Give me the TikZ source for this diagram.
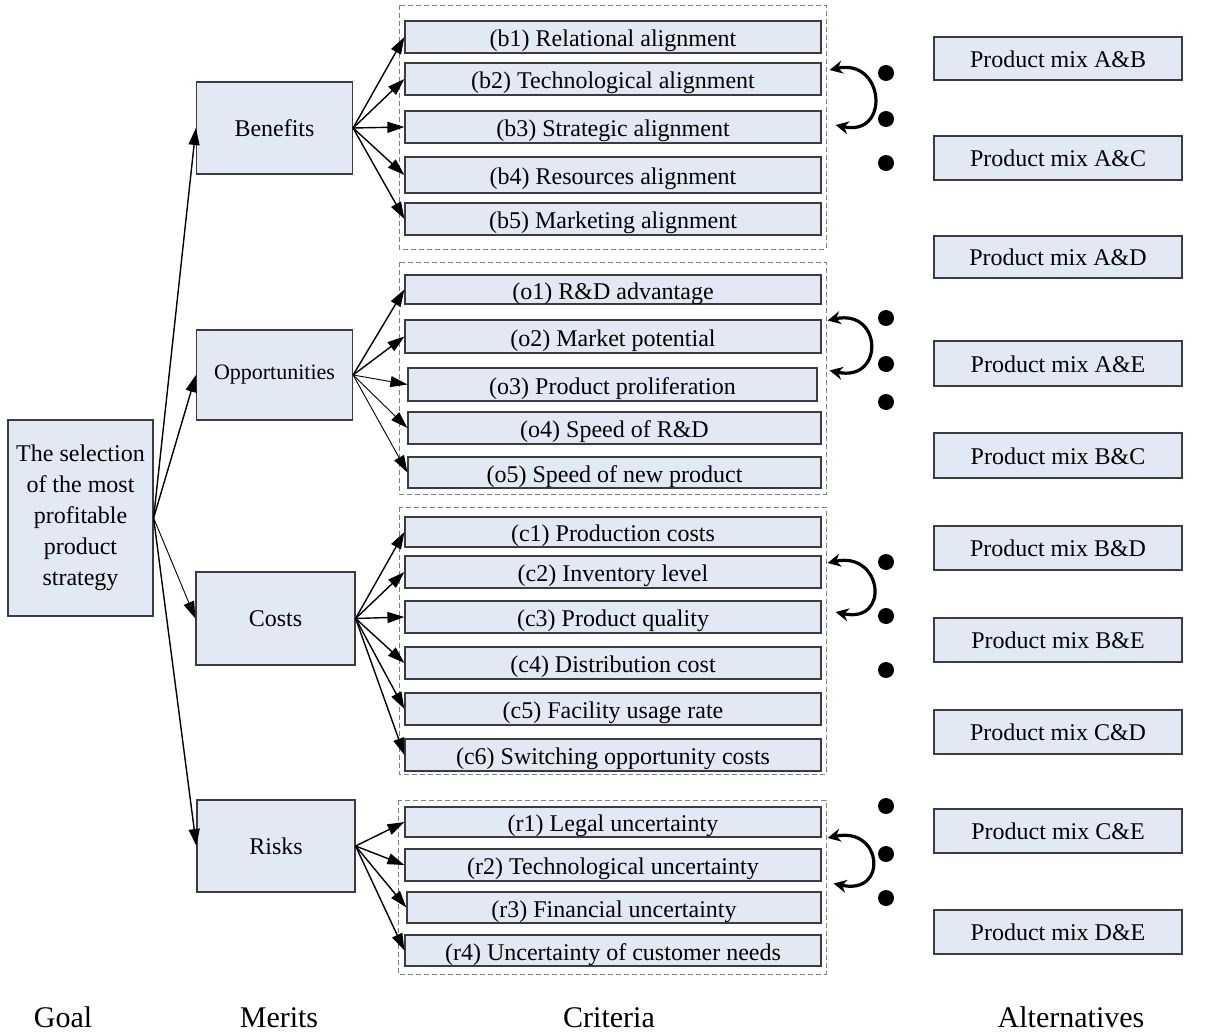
\documentclass[tikz,border=0pt]{standalone}
\usepackage{fontspec}
\setmainfont{Liberation Serif}
\usepackage{xcolor}
\usepackage{tikz}
\usetikzlibrary{arrows.meta}

\definecolor{boxfill}{RGB}{227,232,245}
\definecolor{boxline}{RGB}{60,60,60}

\begin{document}
\begin{tikzpicture}[x=1pt,y=-1pt,
    box/.style={draw=boxline,line width=1.2pt,fill=boxfill,inner sep=0pt,align=center,font=\fontsize{24}{31}\selectfont},
    crit/.style={box,minimum width=416pt,minimum height=32pt,text height=20pt,text depth=1pt},
    alt/.style={box,minimum width=248pt,minimum height=44pt,text height=18pt,text depth=1pt},
    merit/.style={box,minimum width=156pt,minimum height=92pt},
    group/.style={draw=gray,line width=0.8pt,dash pattern=on 5pt off 3pt},
    link/.style={line width=1.4pt,-{Triangle[length=17pt,width=11pt]}},
    swap/.style={line width=3.2pt,{Stealth[length=13pt,width=13pt]}-{Stealth[length=13pt,width=13pt]}},
    dot/.style={circle,fill=black,inner sep=0pt,minimum size=16pt},
    level/.style={anchor=base,font=\fontsize{30}{36}\selectfont}]
        \useasboundingbox (0,0) rectangle (1210,1033);

        % goal and merits
        \node [box,minimum width=145pt,minimum height=196pt] (goal) at (80.5,518) {The selection\\of the most\\profitable\\product\\strategy};
        \node [merit] (ben) at (274.5,128) {Benefits};
        \node [merit,minimum height=90pt,font=\fontsize{22}{28}\selectfont] (opp) at (274.5,375) {Opportunities};
        \node [merit,minimum width=159pt,minimum height=93pt] (cst) at (275.5,618.5) {Costs};
        \node [merit,minimum width=158pt] (rsk) at (276,846) {Risks};

        % criteria groups
        \draw [group] (399,5) rectangle (826,249);
        \draw [group] (399,262) rectangle (826,494);
        \draw [group] (399,507) rectangle (826,774);
        \draw [group] (398,800) rectangle (826,974);

        \node [crit] (b1) at (613,37) {(b1) Relational alignment};
        \node [crit] (b2) at (613,79) {(b2) Technological alignment};
        \node [crit] (b3) at (613,127) {(b3) Strategic alignment};
        \node [crit,minimum height=36pt] (b4) at (613,175) {(b4) Resources alignment};
        \node [crit] (b5) at (613,219) {(b5) Marketing alignment};

        \node [crit,minimum height=29pt] (o1) at (613,289.5) {(o1) R\&D advantage};
        \node [crit,minimum height=33pt] (o2) at (613,336.5) {(o2) Market potential};
        \node [crit,minimum width=409pt,minimum height=33pt] (o3) at (612.5,384.5) {(o3) Product proliferation};
        \node [crit,minimum width=413pt] (o4) at (614.5,428) {(o4) Speed of R\&D};
        \node [crit,minimum width=413pt,minimum height=31pt] (o5) at (614.5,472.5) {(o5) Speed of new product};

        \node [crit,minimum height=30pt] (c1) at (613,532) {(c1) Production costs};
        \node [crit] (c2) at (613,572) {(c2) Inventory level};
        \node [crit] (c3) at (613,617) {(c3) Product quality};
        \node [crit] (c4) at (613,663) {(c4) Distribution cost};
        \node [crit] (c5) at (613,709) {(c5) Facility usage rate};
        \node [crit] (c6) at (613,755) {(c6) Switching opportunity costs};

        \node [crit,minimum height=30pt] (r1) at (613,822) {(r1) Legal uncertainty};
        \node [crit] (r2) at (613,865) {(r2) Technological uncertainty};
        \node [crit,minimum width=414pt,minimum height=31pt] (r3) at (614,907.5) {(r3) Financial uncertainty};
        \node [crit,minimum height=31pt] (r4) at (613,950.5) {(r4) Uncertainty of customer needs};

        % alternatives
        \node [alt,minimum height=43pt] (ab) at (1058,58.5) {Product mix A\&B};
        \node [alt] (ac) at (1058,158) {Product mix A\&C};
        \node [alt,minimum height=42pt] (ad) at (1058,257) {Product mix A\&D};
        \node [alt,minimum height=45pt] (ae) at (1058,363.5) {Product mix A\&E};
        \node [alt,minimum height=45pt] (bc) at (1058,455.5) {Product mix B\&C};
        \node [alt] (bd) at (1058,548) {Product mix B\&D};
        \node [alt] (be) at (1058,640) {Product mix B\&E};
        \node [alt] (cd) at (1058,732) {Product mix C\&D};
        \node [alt] (ce) at (1058,831) {Product mix C\&E};
        \node [alt] (de) at (1058,932) {Product mix D\&E};

        % dots
        \node [dot] (d1) at (886,73) {};
        \node [dot] (d2) at (886,119) {};
        \node [dot] (d3) at (886,163) {};
        \node [dot] (d4) at (886,318) {};
        \node [dot] (d5) at (886,364) {};
        \node [dot] (d6) at (886,402) {};
        \node [dot] (d7) at (886,562) {};
        \node [dot] (d8) at (886,616) {};
        \node [dot] (d9) at (886,670) {};
        \node [dot] (d10) at (886,806) {};
        \node [dot] (d11) at (886,854) {};
        \node [dot] (d12) at (886,898) {};

        % goal to merits
        \draw [link] (goal.east) -- (ben.west);
        \draw [link] (goal.east) -- (opp.west);
        \draw [link,line width=0.9pt] (goal.east) -- (cst.west);
        \draw [link] (goal.east) -- (rsk.west);

        % merits to criteria
        \draw [link] (ben.east) -- (b1.west);
        \draw [link] (ben.east) -- (b2.west);
        \draw [link] (ben.east) -- (b3.west);
        \draw [link] (ben.east) -- (b4.west);
        \draw [link] (ben.east) -- (b5.west);
        \draw [link] (opp.east) -- (o1.west);
        \draw [link] (opp.east) -- (o2.west);
        \draw [link,line width=0.9pt] (opp.east) -- (o3.west);
        \draw [link,line width=0.9pt] (opp.east) -- (o4.west);
        \draw [link,line width=0.9pt] (opp.east) -- (o5.west);
        \draw [link] (cst.east) -- (c1.west);
        \draw [link] (cst.east) -- (c2.west);
        \draw [link] (cst.east) -- (c3.west);
        \draw [link] (cst.east) -- (c4.west);
        \draw [link] (cst.east) -- (c5.west);
        \draw [link] (cst.east) -- (c6.west);
        \draw [link] (rsk.east) -- (r1.west);
        \draw [link] (rsk.east) -- (r2.west);
        \draw [link] (rsk.east) -- (r3.west);
        \draw [link] (rsk.east) -- (r4.west);

        % pairwise comparison arcs
        \draw [swap] ([xshift=8pt,yshift=9pt]b2.east) .. controls +(55,-12) and +(55,12) .. ([xshift=14pt,yshift=2pt]b3.east);
        \draw [swap] ([xshift=6pt,yshift=16pt]o2.east) .. controls +(55,-12) and +(55,12) .. ([xshift=12pt,yshift=14pt]o3.east);
        \draw [swap] ([xshift=6pt,yshift=9pt]c2.east) .. controls +(55,-12) and +(55,12) .. ([xshift=14pt,yshift=5pt]c3.east);
        \draw [swap] ([xshift=6pt,yshift=27pt]r2.east) .. controls +(55,-12) and +(55,12) .. ([xshift=12pt,yshift=24pt]r3.east);

        % level labels
        \node [level] (lgoal) at (63,1027) {Goal};
        \node [level] (lmerit) at (279,1027) {Merits};
        \node [level] (lcrit) at (609,1027) {Criteria};
        \node [level] (lalt) at (1071,1027) {Alternatives};
\end{tikzpicture}
\end{document}
